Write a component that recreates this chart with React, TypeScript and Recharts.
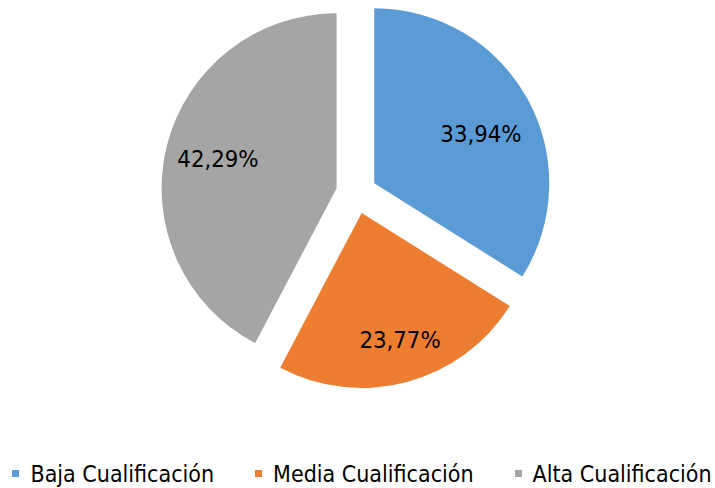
import React from 'react';
import { PieChart, Pie, Cell, Legend } from 'recharts';

// ---- data ----
const categories = ['Baja Cualificación', 'Media Cualificación', 'Alta Cualificación'];
const shares = [33.94, 23.77, 42.29];
const labelTexts = ['33,94%', '23,77%', '42,29%'];

// ---- style / layout ----
const colors = ['#5B9BD5', '#ED7D31', '#A5A5A5'];
const W = 715;
const H = 488;
const CX = 356.4;
const CY = 193.2;
const R = 175;
const EXPLODE = 20.4;
const LABEL_R = 0.7;
const labelNudge: [number, number][] = [
  [-0.5, 9.6],
  [6.6, 8.1],
  [0.3, -0.2],
];
const FONT = "'DejaVu Sans Condensed', 'DejaVu Sans', sans-serif";

const data = categories.map((name, i) => ({ name, value: shares[i] }));
const total = shares.reduce((a, b) => a + b, 0);

// mid angle (degrees clockwise from 12 o'clock) for each slice
const midAngles = shares.map((v, i) => {
  const before = shares.slice(0, i).reduce((a, b) => a + b, 0);
  return ((before + v / 2) / total) * 360;
});

const makeLabel = (slice: number) => (props: any) => {
  if (props.index !== slice) return null;
  const RAD = Math.PI / 180;
  const r = props.outerRadius * LABEL_R;
  const x = props.cx + r * Math.cos(-props.midAngle * RAD) + labelNudge[slice][0];
  const y = props.cy + r * Math.sin(-props.midAngle * RAD) + labelNudge[slice][1];
  return (
    <text
      x={x}
      y={y + 8.6}
      textAnchor="middle"
      fill="#000"
      fontSize={23.7}
      fontFamily={FONT}
    >
      {labelTexts[slice]}
    </text>
  );
};

const renderLegend = () => (
  <div
    style={{
      display: 'flex',
      justifyContent: 'center',
      alignItems: 'center',
      fontFamily: FONT,
      fontSize: 23,
      lineHeight: '26px',
      color: '#000',
      paddingLeft: 9,
    }}
  >
    {categories.map((name, i) => (
      <div
        key={name}
        style={{
          display: 'flex',
          alignItems: 'center',
          marginRight: i < categories.length - 1 ? 41 : 0,
          whiteSpace: 'nowrap',
        }}
      >
        <span
          style={{
            display: 'inline-block',
            width: 7,
            height: 7,
            background: colors[i],
            marginRight: 11,
          }}
        />
        <span>{name}</span>
      </div>
    ))}
  </div>
);

export default function App() {
  return (
    <div style={{ position: 'absolute', left: 0, top: 0, width: W, height: H, background: '#fff' }}>
      <PieChart width={W} height={H} margin={{ top: 0, right: 0, bottom: 0, left: 0 }}>
        {shares.map((_, i) => {
          const a = (midAngles[i] * Math.PI) / 180;
          const dx = EXPLODE * Math.sin(a);
          const dy = -EXPLODE * Math.cos(a);
          return (
            <Pie
              key={i}
              data={data}
              dataKey="value"
              nameKey="name"
              cx={CX + dx}
              cy={CY + dy}
              outerRadius={R}
              innerRadius={0}
              startAngle={90}
              endAngle={-270}
              stroke="none"
              isAnimationActive={false}
              label={makeLabel(i)}
              labelLine={false}
            >
              {data.map((d, j) => (
                <Cell key={d.name} fill={j === i ? colors[j] : 'transparent'} stroke="none" />
              ))}
            </Pie>
          );
        })}
        <Legend
          verticalAlign="bottom"
          content={renderLegend}
          wrapperStyle={{ position: 'absolute', left: 0, top: 460.5, width: W }}
        />
      </PieChart>
    </div>
  );
}
